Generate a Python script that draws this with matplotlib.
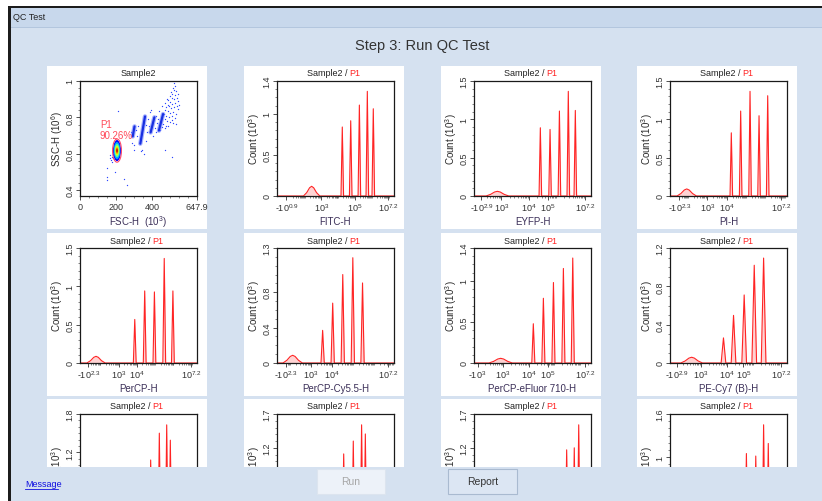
import numpy as np
import matplotlib
matplotlib.use('Agg')
import matplotlib.pyplot as plt
from matplotlib.patches import Rectangle, Ellipse
from matplotlib.lines import Line2D
from matplotlib.ticker import FixedLocator, MultipleLocator
from matplotlib.transforms import Bbox, TransformedBbox

plt.rcParams['font.family'] = ['Liberation Sans', 'DejaVu Sans']
plt.rcParams['mathtext.default'] = 'regular'

W, H = 822, 502

# ---- scatter panel: FSC-H (10^3) vs SSC-H (10^6) ----
p1_center = (205, 0.617)
p1_size = (44, 0.116)
p1_levels = [1.0, 0.82, 0.64, 0.46, 0.3, 0.15]
p1_pct = '90.26%'
streak_x0 = [292, 334, 391, 437]
streak_y0 = [0.695, 0.655, 0.717, 0.727]
streak_x1 = [302, 360, 412, 460]
streak_y1 = [0.75, 0.805, 0.80, 0.818]
scatter_x = [523, 528, 515, 520, 532, 505, 512, 525, 540, 498, 508, 518, 535, 490, 500, 512, 528, 545,
             485, 495, 505, 520, 538, 478, 470, 488, 500, 515, 530, 465, 475, 492, 508, 525, 455, 468,
             482, 498, 515, 448, 460, 475, 490, 440, 452, 470, 430, 425, 435, 445, 420, 440, 455, 470,
             480, 545, 550, 510, 530,
             310, 315, 285, 322, 330, 365, 370, 375, 380, 385, 395, 400, 415, 420, 405, 365, 345, 352,
             338, 300, 290,
             175, 180, 168, 172, 185, 178, 165, 182, 190,
             212, 147, 147, 245, 510, 468, 300, 150, 262, 195]
scatter_y = [0.99, 0.975, 0.96, 0.95, 0.945, 0.94, 0.93, 0.925, 0.93, 0.915, 0.905, 0.90, 0.905, 0.895,
             0.885, 0.875, 0.88, 0.89, 0.87, 0.86, 0.85, 0.855, 0.86, 0.855, 0.84, 0.835, 0.825, 0.83,
             0.82, 0.82, 0.81, 0.80, 0.805, 0.795, 0.80, 0.79, 0.78, 0.775, 0.77, 0.775, 0.765, 0.755,
             0.75, 0.76, 0.745, 0.74, 0.79, 0.77, 0.745, 0.73, 0.81, 0.835, 0.86, 0.88, 0.90, 0.845,
             0.87, 0.785, 0.765,
             0.73, 0.70, 0.72, 0.75, 0.68, 0.76, 0.72, 0.79, 0.75, 0.83, 0.84, 0.76, 0.74, 0.72, 0.70,
             0.67, 0.62, 0.60, 0.615, 0.645, 0.66,
             0.58, 0.59, 0.575, 0.565, 0.60, 0.555, 0.59, 0.575, 0.57,
             0.837, 0.47, 0.455, 0.46, 0.58, 0.62, 0.62, 0.52, 0.43, 0.50]

# ---- histogram panels (x as fraction of the biexponential axis) ----
hist_labels = ['FITC-H', 'EYFP-H', 'PI-H', 'PerCP-H', 'PerCP-Cy5.5-H', 'PerCP-eFluor 710-H',
               'PE-Cy7 (B)-H', 'PE-H', 'PE-Cy5-H', 'PE-Cy5.5-H', 'APC-H']
hist_yticks = [[0, 0.5, 1, 1.4], [0, 0.5, 1, 1.5], [0, 0.5, 1, 1.5], [0, 0.5, 1, 1.5],
               [0, 0.4, 0.8, 1.3], [0, 0.5, 1, 1.4], [0, 0.4, 0.8, 1.2], [0, 0.6, 1.2, 1.8],
               [0, 0.6, 1.2, 1.7], [0, 0.6, 1.2, 1.7], [0, 0.5, 1, 1.6]]
# exponent of each x tick label, negative sign means -10^e
hist_xexp = [[-0.9, 3, 5, 7.2], [-2.9, 3, 4, 5, 7.2], [-2.3, 3, 4, 7.2], [-2.3, 3, 4, 7.2],
             [-2.3, 3, 4, 7.2], [-3, 3, 4, 5, 7.2], [-2.9, 3, 4, 5, 7.2], [-2.3, 3, 4, 7.2],
             [-2.3, 3, 4, 7.2], [-2.3, 3, 4, 7.2], [-2.3, 3, 4, 7.2]]
hist_xpos = [[0.08, 0.38, 0.667, 0.95], [0.063, 0.234, 0.468, 0.633, 0.95], [0.08, 0.32, 0.485, 0.95],
             [0.071, 0.33, 0.486, 0.95], [0.077, 0.29, 0.47, 0.95], [0.03, 0.248, 0.468, 0.633, 0.95],
             [0.057, 0.263, 0.486, 0.628, 0.95], [0.07, 0.3, 0.47, 0.95], [0.07, 0.3, 0.47, 0.95],
             [0.07, 0.3, 0.47, 0.95], [0.07, 0.3, 0.47, 0.95]]
bump_x = [0.296, 0.20, 0.143, 0.137, 0.134, 0.228, 0.185, 0.14, 0.14, 0.2, 0.15]
bump_h = [0.118, 0.061, 0.092, 0.087, 0.087, 0.057, 0.06, 0.08, 0.08, 0.06, 0.07]
bump_w = [0.07, 0.097, 0.083, 0.078, 0.083, 0.10, 0.093, 0.08, 0.08, 0.09, 0.09]
spike_x = [[0.558, 0.63, 0.704, 0.772, 0.823],
           [0.567, 0.65, 0.73, 0.806, 0.866],
           [0.524, 0.604, 0.684, 0.761, 0.835],
           [0.468, 0.553, 0.636, 0.72, 0.794],
           [0.39, 0.476, 0.562, 0.648, 0.731],
           [0.507, 0.593, 0.679, 0.764, 0.844],
           [0.457, 0.543, 0.634, 0.72, 0.80],
           [0.53, 0.604, 0.678, 0.741, 0.772],
           [0.49, 0.57, 0.652, 0.723, 0.755],
           [0.64, 0.72, 0.792, 0.857, 0.895],
           [0.57, 0.653, 0.733, 0.80, 0.84]]
spike_h = [[0.84, 0.916, 1.107, 1.274, 1.062],
           [0.89, 0.868, 1.108, 1.365, 1.116],
           [0.824, 1.108, 1.365, 1.047, 1.308],
           [0.568, 0.94, 0.927, 1.364, 0.94],
           [0.369, 0.677, 1.0, 1.19, 0.905],
           [0.478, 0.788, 0.98, 1.151, 1.278],
           [0.262, 0.497, 0.71, 1.02, 1.095],
           [0.6, 1.08, 1.50, 1.63, 1.39],
           [0.7, 1.11, 1.30, 1.54, 1.405],
           [0.6, 0.9, 1.17, 1.2, 1.54],
           [0.7, 1.05, 1.015, 1.45, 1.19]]
spike_w = [0.011, 0.011, 0.011, 0.012, 0.014, 0.013, 0.02, 0.01, 0.01, 0.01, 0.01]

bg = '#D5E1F0'
red = '#FF2424'
label_col = '#3b2f58'
STRIP_TOP = 467.5


def fx(px):
    return px / W


def fy(py):
    return 1 - py / H


def frect(x0, y0, x1, y1, **kw):
    fig.patches.append(Rectangle((fx(x0), fy(y1)), (x1 - x0) / W, (y1 - y0) / H,
                                 transform=fig.transFigure, **kw))


def x_minor(pos, exps):
    ints = [(p, e) for p, e in zip(pos, exps) if e > 0 and float(e).is_integer()]
    (p1, e1), (p2, e2) = ints[0], ints[1]
    d = (p2 - p1) / (e2 - e1)
    out = []
    for n in range(-4, 6):
        for k in range(1, 10):
            t = p1 + d * (n + np.log10(k))
            if pos[0] + 0.015 < t < 0.995:
                out.append(t)
    return out


def tick_text(e):
    return '-$10^{%g}$' % -e if e < 0 else '$10^{%g}$' % e


def style_axes(ax):
    for s in ax.spines.values():
        s.set_linewidth(0.9)
        s.set_color('#1a1a1a')
    ax.tick_params(which='major', direction='out', length=3, width=0.6, colors='#333333',
                   labelsize=6.5, pad=1)
    ax.tick_params(which='minor', direction='out', length=1.6, width=0.5, colors='#555555')
    for lab in ax.get_yticklabels():
        lab.set_rotation(90)
        lab.set_va('center')


fig = plt.figure(figsize=(W / 100, H / 100), dpi=100)
fig.patch.set_facecolor(bg)
visible = TransformedBbox(Bbox([[0, fy(STRIP_TOP)], [1, 1]]), fig.transFigure)

# window chrome
frect(0, 0, W, 7.5, facecolor='white', edgecolor='none', zorder=-3)
frect(8, 8.5, W, 28, facecolor='#C8D8EC', edgecolor='none', zorder=-3)
frect(8, 27.5, W, 28.5, facecolor='#B3C6DE', edgecolor='none', zorder=-3)
fig.text(fx(13), fy(18), 'QC Test', fontsize=6.5, color='#222222', ha='left', va='center')
fig.text(fx(422), fy(46), 'Step 3: Run QC Test', fontsize=10.5, color='#333333',
         ha='center', va='center')

card_left = [47, 244, 441, 637]
card_top = [67, 234, 400]
card_w, card_h = 160, 163

for i in range(12):
    r, c = divmod(i, 4)
    cl, ct = card_left[c], card_top[r]
    frect(cl, ct, cl + card_w, ct + card_h, facecolor='white', edgecolor='none', zorder=-2)
    al, at = cl + 33, ct + 15
    ax = fig.add_axes([fx(al), fy(at + 115), 117 / W, 115 / H])
    ax.set_facecolor('white')
    acx = al + 58.5
    ylab = fig.text(fx(cl + 10), fy(at + 57.5), 'Count (10$^3$)' if i > 0 else 'SSC-H (10$^6$)',
                    rotation=90, fontsize=7, color='#2a2a2a', ha='center', va='center')
    if r == 2:
        ylab.set_clip_box(visible)
        ylab.set_clip_on(True)

    if i == 0:
        # scatter
        ax.set_xlim(0, 647.9)
        ax.set_ylim(0.367, 1.0)
        for x0, y0, x1, y1 in zip(streak_x0, streak_y0, streak_x1, streak_y1):
            ax.plot([x0, x1], [y0, y1], color='#6a7cff', lw=3.2, solid_capstyle='round', alpha=0.6)
            ax.plot([x0, x1], [y0, y1], color='#1830e0', lw=1.6, solid_capstyle='round')
        ax.scatter(scatter_x, scatter_y, s=0.9, color='#2b45ff', linewidths=0)
        jet = plt.cm.jet
        for k, lv in enumerate(p1_levels):
            ax.add_patch(Ellipse(p1_center, p1_size[0] * lv, p1_size[1] * lv,
                                 facecolor=jet(0.12 + 0.85 * k / (len(p1_levels) - 1)),
                                 edgecolor='none'))
        ax.add_patch(Ellipse(p1_center, p1_size[0] * 1.12, p1_size[1] * 1.1,
                             facecolor='none', edgecolor='#ff4a6a', lw=0.8))
        ax.text(110, 0.763, 'P1', color='#ff4a5a', fontsize=7, ha='left', va='center')
        ax.text(108, 0.703, p1_pct, color='#ff4a5a', fontsize=7, ha='left', va='center')
        ax.xaxis.set_major_locator(FixedLocator([0, 200, 400, 647.9]))
        ax.set_xticklabels(['0', '200', '400', '647.9'])
        ax.xaxis.set_minor_locator(MultipleLocator(50))
        ax.yaxis.set_major_locator(FixedLocator([0.4, 0.6, 0.8, 1.0]))
        ax.set_yticklabels(['0.4', '0.6', '0.8', '1'])
        ax.yaxis.set_minor_locator(MultipleLocator(0.04))
        style_axes(ax)
        fig.text(fx(acx), fy(ct + 7), 'Sample2', fontsize=6.5, color='#222222',
                 ha='center', va='center')
        fig.text(fx(acx), fy(ct + 155), 'FSC-H  (10$^3$)', fontsize=7, color=label_col,
                 ha='center', va='center')
        continue

    j = i - 1
    xs, ys = [0.0], [0.0]
    c0, h0, w0 = bump_x[j], bump_h[j], bump_w[j]
    for dx, fh in [(-1, 0), (-0.6, 0.35), (-0.25, 0.85), (0, 1), (0.25, 0.85), (0.6, 0.35), (1, 0)]:
        xs.append(c0 + dx * w0)
        ys.append(fh * h0)
    for sx, sh in zip(spike_x[j], spike_h[j]):
        xs += [sx - spike_w[j], sx, sx + spike_w[j]]
        ys += [0, sh, 0]
    xs.append(1.0)
    ys.append(0.0)
    ax.fill_between(xs, ys, color='#FFD3D3', lw=0)
    ax.plot(xs, ys, color=red, lw=0.8)
    ax.set_xlim(0, 1)
    ax.set_ylim(0, hist_yticks[j][-1])
    ax.xaxis.set_major_locator(FixedLocator(hist_xpos[j]))
    ax.xaxis.set_minor_locator(FixedLocator(x_minor(hist_xpos[j], hist_xexp[j])))
    if r < 2:
        ax.set_xticklabels([tick_text(e) for e in hist_xexp[j]])
    else:
        # bottom of the third row is hidden behind the button strip
        ax.set_xticklabels([])
    ax.yaxis.set_major_locator(FixedLocator(hist_yticks[j]))
    ax.set_yticklabels(['%g' % v for v in hist_yticks[j]])
    ax.yaxis.set_minor_locator(MultipleLocator(0.1))
    style_axes(ax)
    if r == 2:
        for lab in ax.get_yticklabels():
            lab.set_clip_box(visible)
            lab.set_clip_on(True)
    fig.text(fx(acx + 14), fy(ct + 7), 'Sample2 / ', fontsize=6.5, color='#222222',
             ha='right', va='center')
    fig.text(fx(acx + 14), fy(ct + 7), 'P1', fontsize=6.5, color=red, ha='left', va='center')
    if r < 2:
        fig.text(fx(acx), fy(ct + 155), hist_labels[j], fontsize=7, color=label_col,
                 ha='center', va='center')

# bottom strip with buttons (covers the third row)
frect(10, STRIP_TOP, W, H, facecolor=bg, edgecolor='none', zorder=5)
fig.text(fx(25), fy(485), 'Message', fontsize=6.5, color='#1010E0', ha='left', va='center',
         zorder=7)
fig.lines.append(Line2D([fx(25), fx(58)], [fy(489.5), fy(489.5)], transform=fig.transFigure,
                        color='#1010E0', lw=0.6, zorder=7))
frect(317, 470, 385, 494.5, facecolor='#EDF2F9', edgecolor='#DCE4EF', lw=0.8, zorder=6)
fig.text(fx(351), fy(482.5), 'Run', fontsize=7.5, color='#A6A6A6', ha='center', va='center',
         zorder=7)
frect(448, 470, 517, 494.5, facecolor='#DCE6F3', edgecolor='#A9BAD0', lw=0.8, zorder=6)
fig.text(fx(482.5), fy(482.5), 'Report', fontsize=7.5, color='#333333', ha='center',
         va='center', zorder=7)

# left frame
frect(0, 0, 8, H, facecolor='white', edgecolor='none', zorder=8)
frect(8, 7, 10.5, H, facecolor='#1c1c1c', edgecolor='none', zorder=8)
frect(8, 7, W, 8.5, facecolor='#1c1c1c', edgecolor='none', zorder=8)

fig.savefig('out.png', dpi=100, facecolor=fig.get_facecolor())
